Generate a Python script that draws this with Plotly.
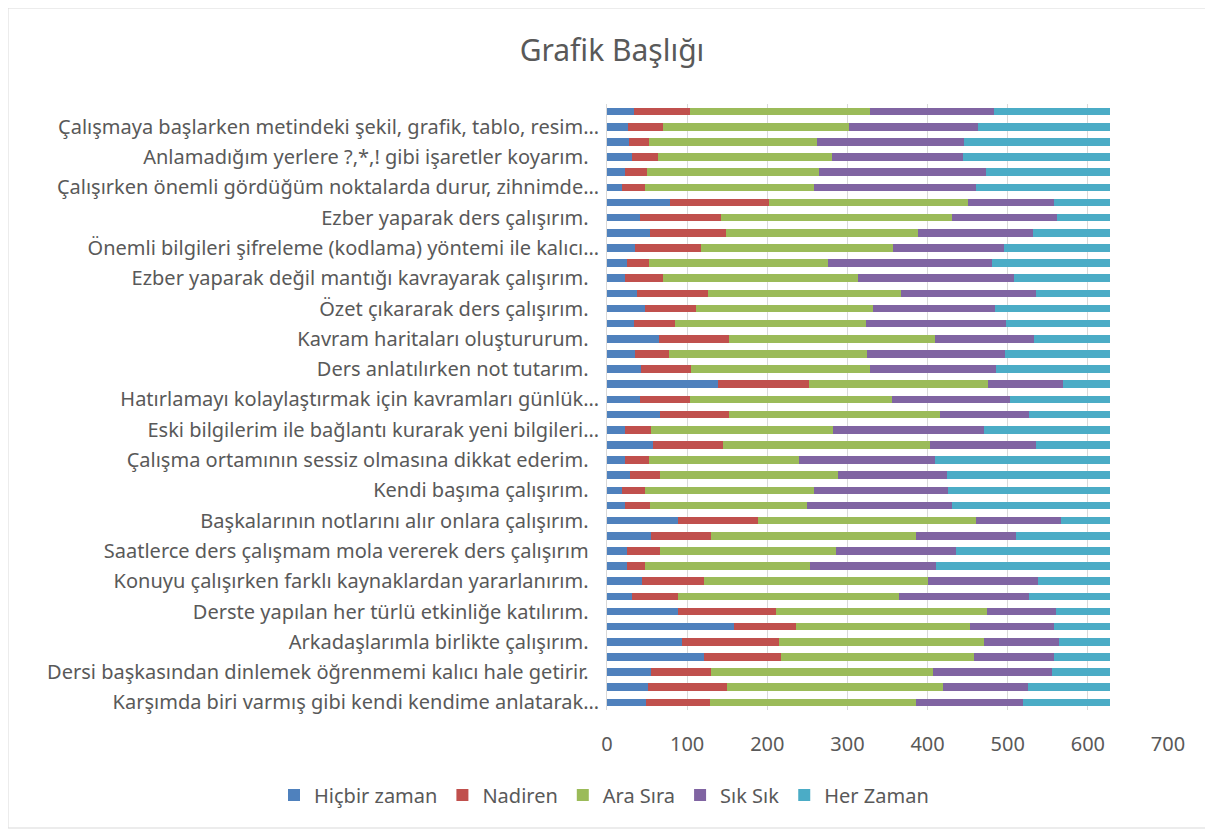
import plotly.graph_objects as go

# 40 statements, bottom (index 0) to top (index 39); only every other one is labelled
positions = list(range(40))
label_positions = list(range(0, 40, 2))
labels = [
    "Karşımda biri varmış gibi kendi kendime anlatarak…",
    "Dersi başkasından dinlemek öğrenmemi kalıcı hale getirir.",
    "Arkadaşlarımla birlikte çalışırım.",
    "Derste yapılan her türlü etkinliğe katılırım.",
    "Konuyu çalışırken farklı kaynaklardan yararlanırım.",
    "Saatlerce ders çalışmam mola vererek ders çalışırım",
    "Başkalarının notlarını alır onlara çalışırım.",
    "Kendi başıma çalışırım.",
    "Çalışma ortamının sessiz olmasına dikkat ederim.",
    "Eski bilgilerim ile bağlantı kurarak yeni bilgileri…",
    "Hatırlamayı kolaylaştırmak için kavramları günlük…",
    "Ders anlatılırken not tutarım.",
    "Kavram haritaları oluştururum.",
    "Özet çıkararak ders çalışırım.",
    "Ezber yaparak değil mantığı kavrayarak çalışırım.",
    "Önemli bilgileri şifreleme (kodlama) yöntemi ile kalıcı…",
    "Ezber yaparak ders çalışırım.",
    "Çalışırken önemli gördüğüm noktalarda durur, zihnimde…",
    "Anlamadığım yerlere ?,*,! gibi işaretler koyarım.",
    "Çalışmaya başlarken metindeki şekil, grafik, tablo, resim…",
]

hicbir = [49, 51, 55, 121, 93, 159, 88, 31, 44, 25, 25, 55, 88, 23, 19, 29, 22, 57, 22, 66,
          41, 139, 42, 35, 65, 34, 48, 38, 23, 25, 35, 54, 41, 79, 19, 23, 31, 28, 26, 34]
nadiren = [79, 99, 75, 96, 121, 77, 123, 57, 77, 23, 41, 75, 100, 31, 29, 37, 31, 88, 33, 86,
           62, 113, 63, 42, 87, 51, 63, 88, 47, 28, 82, 94, 101, 123, 28, 27, 33, 25, 44, 69]
ara_sira = [257, 269, 277, 241, 257, 217, 263, 276, 280, 205, 220, 255, 273, 196, 210, 222, 187, 258, 227, 263,
            253, 224, 223, 248, 257, 238, 221, 241, 243, 223, 240, 240, 288, 248, 211, 214, 217, 209, 232, 225]
sik_sik = [134, 106, 148, 100, 93, 105, 86, 162, 137, 158, 150, 125, 106, 181, 168, 136, 169, 132, 189, 111,
           147, 93, 157, 171, 124, 175, 152, 168, 195, 204, 138, 143, 132, 108, 202, 209, 163, 184, 161, 155]
her_zaman = [108, 102, 72, 69, 63, 69, 67, 101, 89, 216, 191, 117, 60, 196, 201, 203, 218, 92, 156, 101,
             124, 58, 142, 131, 94, 129, 143, 92, 119, 147, 132, 96, 65, 69, 167, 154, 183, 181, 164, 144]

series = [
    ("Hiçbir zaman", hicbir, "#4F81BD"),
    ("Nadiren", nadiren, "#C0504D"),
    ("Ara Sıra", ara_sira, "#9BBB59"),
    ("Sık Sık", sik_sik, "#8064A2"),
    ("Her Zaman", her_zaman, "#4BACC6"),
]

# full labels end with a small gap, like the source
ticktext = [t if t.endswith("…") else t + "\u00a0\u00a0" for t in labels]

# page body adds an 8px offset, so the figure is laid out 8px up/left
OFF = 8
W, H = 1213, 832
ML, MR, MT, MB = 607 - OFF, 45 + OFF, 104 - OFF, 122 + OFF
font = "Noto Sans, sans-serif"
grey = "#595959"

fig = go.Figure()
for name, vals, color in series:
    fig.add_trace(go.Bar(
        y=positions, x=vals, name=name, orientation="h",
        marker=dict(color=color, line=dict(width=0)),
    ))

pw, ph = W - ML - MR, H - MT - MB
fig.add_shape(
    type="rect", xref="paper", yref="paper",
    x0=(8 - OFF - ML) / pw, x1=(1207 - OFF - ML) / pw,
    y0=(H - MB - (828 - OFF)) / ph, y1=(H - MB - (8 - OFF)) / ph,
    line=dict(color="#D9D9D9", width=1), layer="below",
)

fig.update_layout(
    width=W, height=H,
    barmode="stack", bargap=0.5,
    paper_bgcolor="white", plot_bgcolor="white",
    margin=dict(l=ML, r=MR, t=MT, b=MB),
    font=dict(family=font, color=grey, size=20),
    title=dict(text="Grafik Başlığı", x=(612 - OFF) / W, xanchor="center",
               y=1 - (50 - OFF) / H, yanchor="middle",
               font=dict(size=30, color=grey)),
    legend=dict(orientation="h", xref="paper", yref="paper",
                x=(274 - OFF - ML) / pw, xanchor="left",
                y=(H - MB - (795 - OFF)) / ph, yanchor="middle",
                font=dict(size=20, color=grey), traceorder="normal", itemwidth=30),
    showlegend=True,
)
fig.update_xaxes(range=[0, 700], dtick=100, showgrid=True, gridcolor="#D9D9D9", gridwidth=1,
                 zeroline=False, showline=False, ticks="", ticklabelstandoff=20,
                 tickfont=dict(size=20, color=grey))
fig.update_yaxes(range=[-0.5, 39.5], tickvals=label_positions, ticktext=ticktext, showgrid=False,
                 zeroline=False, showline=True, linecolor="#D9D9D9", ticks="",
                 ticklabelstandoff=3, tickfont=dict(size=20, color=grey))

fig.write_html("out.html")
